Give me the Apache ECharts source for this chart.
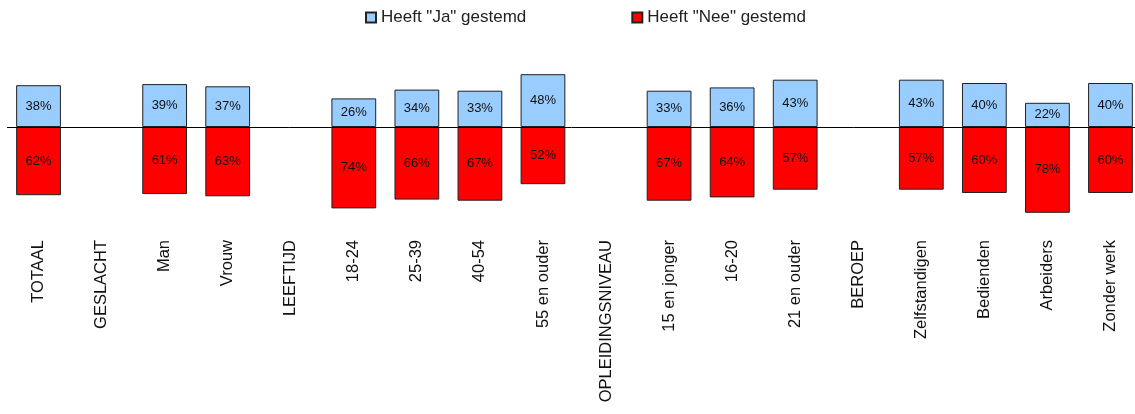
<!DOCTYPE html>
<html><head><meta charset="utf-8">
<script src="https://cdn.jsdelivr.net/npm/echarts@6/dist/echarts.min.js"></script>
<style>html,body{margin:0;padding:0;background:#fff}#c{width:1135px;height:414px}</style>
</head><body><div id="c"></div>
<script>
var categories = ["TOTAAL","GESLACHT","Man","Vrouw","LEEFTIJD","18-24","25-39","40-54","55 en ouder","OPLEIDINGSNIVEAU","15 en jonger","16-20","21 en ouder","BEROEP","Zelfstandigen","Bedienden","Arbeiders","Zonder werk"];
var jaValues = [38,null,39,37,null,26,34,33,48,null,33,36,43,null,43,40,22,40];
var neeValues = [62,null,61,63,null,74,66,67,52,null,67,64,57,null,57,60,78,60];

var chart = echarts.init(document.getElementById('c'));
var font = 'Liberation Sans, Arial, sans-serif';
chart.setOption({
  animation:false,
  textStyle:{fontFamily:font},
  legend:{
    left:360, top:4, icon:'rect', itemWidth:10, itemHeight:10, itemGap:105,
    textStyle:{fontSize:17, color:'#222', fontFamily:font},
    data:['Heeft "Ja" gestemd','Heeft "Nee" gestemd']
  },
  grid:{left:7, width:1135, top:72, height:143, containLabel:false, outerBoundsMode:'none'},
  xAxis:{
    type:'category', data:categories,
    axisLine:{show:false}, axisTick:{show:false},
    axisLabel:{rotate:90, interval:0, margin:25, fontSize:16.5, color:'#111', fontFamily:font}
  },
  yAxis:{type:'value', min:-80, max:50, show:false, splitLine:{show:false}},
  series:[
    {name:'Heeft "Ja" gestemd', type:'bar', stack:'a', barWidth:'71%',
     data:jaValues,
     itemStyle:{color:'#99ccff', borderColor:'#222', borderWidth:1},
     label:{show:true, position:'inside', fontSize:13, color:'#111', formatter:function(p){return p.value+'%';}},
     markLine:{silent:true, symbol:'none', label:{show:false}, lineStyle:{color:'#000', width:1, type:'solid'}, data:[{yAxis:0}]}
    },
    {name:'Heeft "Nee" gestemd', type:'bar', stack:'a', barWidth:'71%',
     data:neeValues.map(function(v){return v==null?null:-v;}),
     itemStyle:{color:'#ff0000', borderColor:'#222', borderWidth:1},
     label:{show:true, position:'inside', fontSize:13, color:'#111', formatter:function(p){return (-p.value)+'%';}}
    }
  ]
});
</script></body></html>
